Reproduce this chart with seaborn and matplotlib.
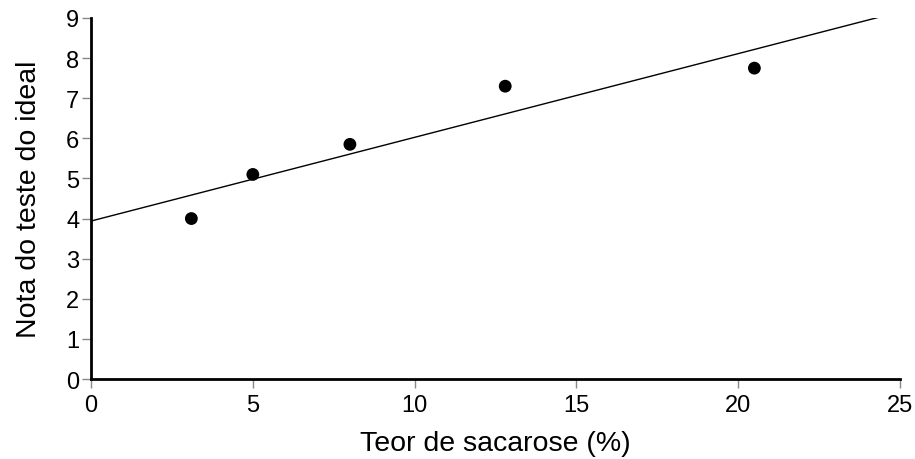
import matplotlib
matplotlib.use("Agg")
import matplotlib.pyplot as plt
import seaborn as sns
import pandas as pd
import numpy as np

sacarose = [3.1, 5.0, 8.0, 12.8, 20.5]
nota = [4.0, 5.1, 5.85, 7.3, 7.75]
x_ticks = [0, 5, 10, 15, 20, 25]
y_ticks = [0, 1, 2, 3, 4, 5, 6, 7, 8, 9]

df = pd.DataFrame({"Teor de sacarose (%)": sacarose, "Nota do teste do ideal": nota})

sns.set_theme(style="ticks")
plt.rcParams['font.family'] = ['Liberation Sans', 'DejaVu Sans']

fig = plt.figure(figsize=(9.15, 4.6), dpi=100)
ax = fig.add_axes([0.0995, 0.1739, 0.8841, 0.7848])
ax.set_xlim(0, 25)
ax.set_ylim(0, 9)

sns.regplot(data=df, x="Teor de sacarose (%)", y="Nota do teste do ideal", ax=ax,
            ci=None, truncate=False,
            scatter_kws=dict(s=85, color="black", zorder=3, edgecolor="none", alpha=1),
            line_kws=dict(color="black", lw=1.0))
ax.set_xlim(0, 25)
ax.set_ylim(0, 9)
for l in ax.get_lines():
    l.set_clip_on(True)

ax.set_xticks(x_ticks)
ax.set_yticks(y_ticks)
ax.tick_params(axis="both", direction="out", length=6.5, width=1, color="#888888",
               labelsize=17, labelcolor="black")
ax.tick_params(axis="x", pad=4.5)
ax.tick_params(axis="y", pad=2)
sns.despine(ax=ax)
for s in ["left", "bottom"]:
    ax.spines[s].set_linewidth(2)
    ax.spines[s].set_color("black")
ax.set_xlabel("Teor de sacarose (%)", fontsize=20.5, labelpad=10, color="black")
ax.set_ylabel("Nota do teste do ideal", fontsize=20.5, labelpad=17, color="black")

fig.savefig("out.png", dpi=100)
